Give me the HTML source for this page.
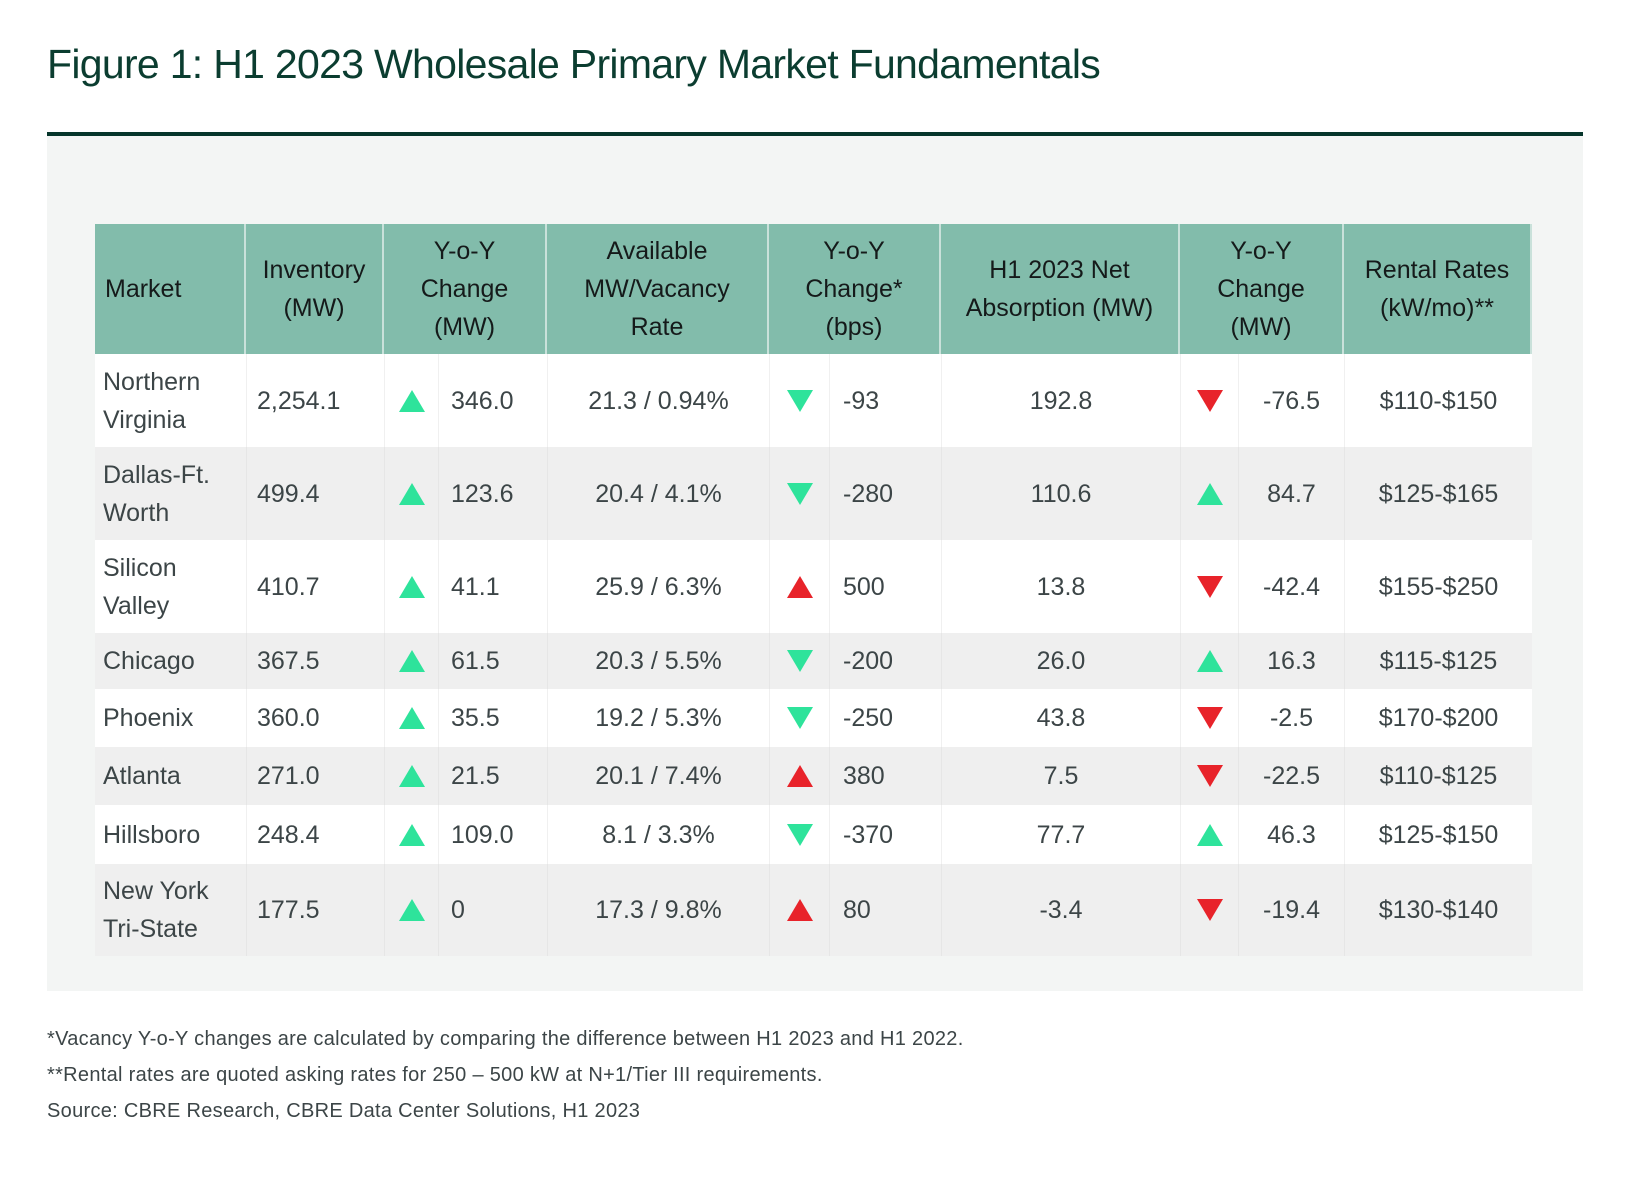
<!DOCTYPE html>
<html><head><meta charset="utf-8">
<style>
body{margin:0;width:1640px;height:1190px;background:#fff;position:relative;font-family:"Liberation Sans",sans-serif;overflow:hidden}
.abs{position:absolute}
#title{left:47px;top:41px;font-size:41px;color:#0b3d30;white-space:nowrap;letter-spacing:-0.7px}
#rule{left:47px;top:132px;width:1536px;height:4px;background:#06352b}
#panel{left:47px;top:136px;width:1536px;height:855px;background:#f3f5f4}
.cell{position:absolute;box-sizing:border-box;display:flex;align-items:center;font-size:25px;line-height:38px;color:#3c4547;white-space:nowrap}
.hd{background:#82bcab;color:#151a1a;justify-content:center;text-align:center;border-right:2px solid #c9e1da}
.tri{width:0;height:0;border-left:13px solid transparent;border-right:13px solid transparent}
.foot{left:47px;font-size:20px;color:#3c4547;white-space:nowrap;letter-spacing:0.3px}
</style></head><body>
<div id="title" class="abs">Figure 1: H1 2023 Wholesale Primary Market Fundamentals</div>
<div id="rule" class="abs"></div>
<div id="panel" class="abs"></div>
<div id="table" class="abs" style="left:0;top:0"></div>
<div class="abs foot" style="top:1028px">*Vacancy Y-o-Y changes are calculated by comparing the difference between H1 2023 and H1 2022.</div>
<div class="abs foot" style="top:1064px">**Rental rates are quoted asking rates for 250 – 500 kW at N+1/Tier III requirements.</div>
<div class="abs foot" style="top:1100px">Source: CBRE Research, CBRE Data Center Solutions, H1 2023</div>
<script>
const markets=["Northern<br>Virginia","Dallas-Ft.<br>Worth","Silicon<br>Valley","Chicago","Phoenix","Atlanta","Hillsboro","New York<br>Tri-State"];
const inventory=["2,254.1","499.4","410.7","367.5","360.0","271.0","248.4","177.5"];
const invChange=["346.0","123.6","41.1","61.5","35.5","21.5","109.0","0"];
const invDir=["up","up","up","up","up","up","up","up"];
const available=["21.3 / 0.94%","20.4 / 4.1%","25.9 / 6.3%","20.3 / 5.5%","19.2 / 5.3%","20.1 / 7.4%","8.1 / 3.3%","17.3 / 9.8%"];
const vacChange=["-93","-280","500","-200","-250","380","-370","80"];
const vacDir=["down-good","down-good","up-bad","down-good","down-good","up-bad","down-good","up-bad"];
const absorption=["192.8","110.6","13.8","26.0","43.8","7.5","77.7","-3.4"];
const absChange=["-76.5","84.7","-42.4","16.3","-2.5","-22.5","46.3","-19.4"];
const absDir=["down-bad","up-good","down-bad","up-good","down-bad","down-bad","up-good","down-bad"];
const rental=["$110-$150","$125-$165","$155-$250","$115-$125","$170-$200","$110-$125","$125-$150","$130-$140"];
const headers=["Market","Inventory<br>(MW)","Y-o-Y<br>Change<br>(MW)","Available<br>MW/Vacancy<br>Rate","Y-o-Y<br>Change*<br>(bps)","H1 2023 Net<br>Absorption (MW)","Y-o-Y<br>Change<br>(MW)","Rental Rates<br>(kW/mo)**"];

const T=document.getElementById('table');
const colX=[95,247,386,440,549,773,833,946,1186,1244,1351,1540].map(x=>Math.round(95+(x-95)*0.9945));
const headTop=224,headBot=354;
const rowY=[354,447,540,633,689,747,805,864,956];
const GREEN="#2ee39b",RED="#e8232a";
function mk(x,y,w,h,cls,html,align,pad){
  const d=document.createElement('div');
  d.className='cell '+cls;
  d.style.left=x+'px';d.style.top=y+'px';d.style.width=w+'px';d.style.height=h+'px';
  if(align)d.style.justifyContent=align;
  if(pad!=null)d.style.paddingLeft=pad+'px';
  d.innerHTML=html;T.appendChild(d);return d;
}
const hcols=[[0,1],[1,2],[2,4],[4,5],[5,7],[7,8],[8,10],[10,11]];
hcols.forEach((c,i)=>{
  const d=mk(colX[c[0]],headTop,colX[c[1]]-colX[c[0]],headBot-headTop,'hd',headers[i],i==0?'flex-start':'center',i==0?10:0);
  
  
  if(i==0)d.style.textAlign='left';
});
function tri(dir){
  const up=dir.startsWith('up');
  const good=dir==='up'||dir.endsWith('good');
  const col=good?GREEN:RED;
  return '<div class="tri" style="'+(up?'border-bottom':'border-top')+':22px solid '+col+'"></div>';
}
for(let r=0;r<markets.length;r++){
  const y=rowY[r],h=rowY[r+1]-rowY[r];
  const bg=r%2?'#efefef':'#ffffff';
  const row=document.createElement('div');
  row.className='abs';row.style.cssText='left:'+colX[0]+'px;top:'+y+'px;width:'+(colX[11]-colX[0])+'px;height:'+h+'px;background:'+bg;
  
  
  T.appendChild(row);
  const cells=[
    [0,1,markets[r],'flex-start',8,'market'],
    [1,2,inventory[r],'flex-start',10,'inventory'],
    [2,3,tri(invDir[r]),'center',0,'inventory-arrow'],
    [3,4,invChange[r],'flex-start',12,'inventory-change'],
    [4,5,available[r],'center',0,'available'],
    [5,6,tri(vacDir[r]),'center',0,'vacancy-arrow'],
    [6,7,vacChange[r],'flex-start',13,'vacancy-change'],
    [7,8,absorption[r],'center',0,'absorption'],
    [8,9,tri(absDir[r]),'center',0,'absorption-arrow'],
    [9,10,absChange[r],'center',0,'absorption-change'],
    [10,11,rental[r],'center',0,'rental-rate']
  ];
  cells.forEach(c=>{
    const d=mk(colX[c[0]],y,colX[c[1]]-colX[c[0]],h,'',c[2],c[3],c[4]);
    d.style.borderLeft=c[0]>0?'1px solid '+(r%2?'#e6e6e6':'#f0f0f0'):'none';
    
    
  });
}
</script>
</body></html>
